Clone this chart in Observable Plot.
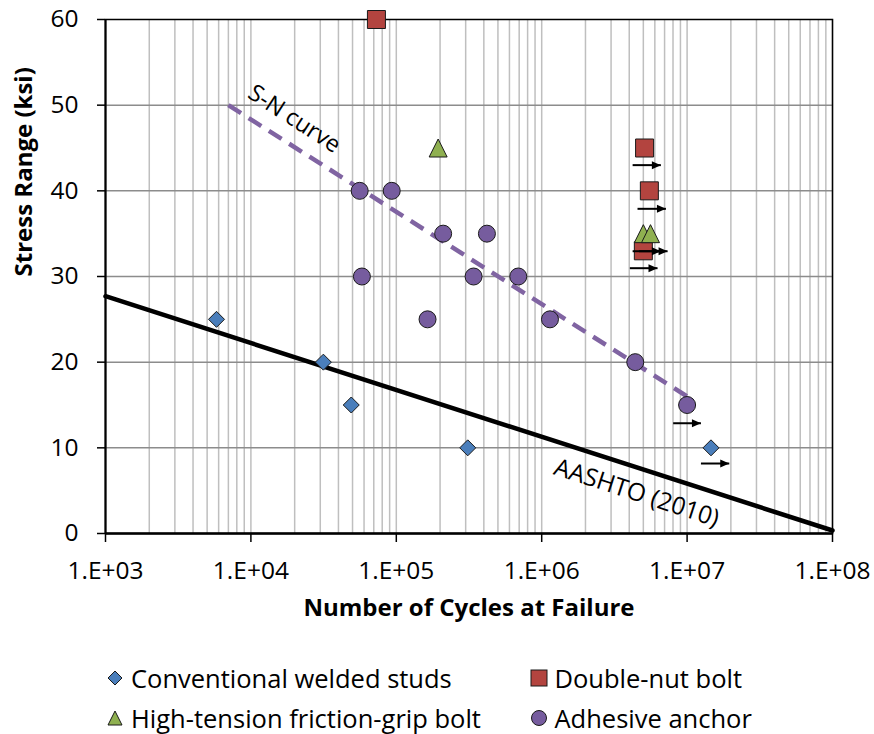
<!DOCTYPE html>
<html><head><meta charset="utf-8">
<script src="https://cdn.jsdelivr.net/npm/d3@7"></script>
<script src="https://cdn.jsdelivr.net/npm/@observablehq/plot@0.6"></script>
<style>
body{margin:0;background:#fff;font-family:"Open Sans",sans-serif;}
#chart{width:874px;}
#legend{position:relative;width:874px;height:94px;font-size:25.5px;color:#000;}
.item{position:absolute;height:40px;display:flex;align-items:center;white-space:nowrap;}
.item svg{margin-right:7px;flex:none;}
</style></head><body><div id="chart"></div><div id="legend"></div>
<script>
// ---- axis ticks ----
const xTicks = [1e3, 1e4, 1e5, 1e6, 1e7, 1e8];
const xTickLabels = ["1.E+03", "1.E+04", "1.E+05", "1.E+06", "1.E+07", "1.E+08"];
const yTicks = [0, 10, 20, 30, 40, 50, 60];
const yGrid = [10, 20, 30, 40, 50];

// ---- series (N cycles, stress range ksi) ----
const seriesNames = ["Conventional welded studs", "Double-nut bolt", "High-tension friction-grip bolt", "Adhesive anchor"];
const studN = [5.8e3, 3.15e4, 4.9e4, 3.1e5, 1.46e7];
const studS = [25, 20, 15, 10, 10];
const nutN = [7.3e4, 5.1e6, 5.5e6, 5.0e6];
const nutS = [60, 45, 40, 33];
const htfgN = [1.94e5, 5.0e6, 5.6e6];
const htfgS = [45, 35, 35];
const adhN = [5.6e4, 9.3e4, 5.8e4, 2.1e5, 4.2e5, 3.4e5, 6.9e5, 1.64e5, 1.14e6, 4.4e6, 1.0e7];
const adhS = [40, 40, 30, 35, 35, 30, 30, 25, 25, 20, 15];

// ---- curves ----
const aashtoN = [1e3, 1e8];
const aashtoS = [27.7, 0.35];
const snN = [7.0e3, 1.0e7];
const snS = [50, 16];

// ---- run-out arrows ----
const arrowN1 = [4.22e6, 4.56e6, 4.22e6, 4.66e6, 4.04e6, 8.02e6, 1.245e7];
const arrowN2 = [6.6e6, 7.15e6, 6.6e6, 7.34e6, 6.26e6, 1.245e7, 1.95e7];
const arrowS = [43.0, 37.9, 32.95, 32.95, 30.97, 12.87, 8.17];

// ---- labels ----
const snLabel = "S-N curve", snLabelN = 1.99e4, snLabelS = 48.4;
const aashtoLabel = "AASHTO (2010)", aashtoLabelN = 4.5e6, aashtoLabelS = 4.73;

const colors = ["#4a7ebb", "#b3443f", "#8fb050", "#765c9e"];
const snColor = "#8064a2";

const half = size => Math.sqrt(size / Math.PI);
const diamondSym = {draw(c, s){const h = half(s); c.moveTo(0,-h); c.lineTo(h,0); c.lineTo(0,h); c.lineTo(-h,0); c.closePath();}};
const squareSym = {draw(c, s){const h = half(s); c.rect(-h,-h,2*h,2*h);}};
const triSym = {draw(c, s){const h = half(s); c.moveTo(0,-h); c.lineTo(h,h); c.lineTo(-h,h); c.closePath();}};
const headSym = {draw(c){c.moveTo(0,0); c.lineTo(-9,-4); c.lineTo(-9,4); c.closePath();}};

const minorTicks = d3.scaleLog().domain([1e3, 1e8]).ticks();

const chart = Plot.plot({
  width: 874, height: 640,
  marginTop: 19, marginRight: 42, marginBottom: 107, marginLeft: 105,
  x: {type: "log", domain: [1e3, 1e8]},
  y: {domain: [0, 60]},
  style: {fontFamily: "Open Sans", fontSize: "24px", color: "#000", background: "#fff", overflow: "visible"},
  marks: [
    Plot.gridX(minorTicks, {stroke: "#bfbfbf", strokeOpacity: 1, strokeWidth: 1.5}),
    Plot.gridY(yGrid, {stroke: "#8c8c8c", strokeOpacity: 1, strokeWidth: 1.5}),
    Plot.frame({stroke: "#000", strokeWidth: 1.5}),
    Plot.ruleY([0], {stroke: "#000", strokeWidth: 2.5}),
    Plot.ruleX([1e3], {stroke: "#000", strokeWidth: 2}),
    Plot.axisY({ticks: yTicks, tickSize: 8, tickPadding: 19, strokeWidth: 1.5, label: null, fontSize: 24.5}),
    Plot.axisX({ticks: xTicks, tickSize: 9, tickPadding: 19, strokeWidth: 1.5, label: null, fontSize: 24.5,
      tickFormat: d => xTickLabels[xTicks.indexOf(d)]}),
    Plot.text(["Stress Range (ksi)"], {frameAnchor: "left", dx: -81, rotate: -90, fontWeight: "bold", fontSize: 24}),
    Plot.text(["Number of Cycles at Failure"], {frameAnchor: "bottom", dy: 82, fontWeight: "bold", fontSize: 24}),
    Plot.line(aashtoS, {x: aashtoN, y: aashtoS, stroke: "#000", strokeWidth: 4.5}),
    Plot.line(snS, {x: snN, y: snS, stroke: snColor, strokeWidth: 4.5, strokeDasharray: "15,9", strokeLinecap: "butt"}),
    Plot.text([snLabel], {x: [snLabelN], y: [snLabelS], rotate: 33, fontSize: 23.5, fill: "#000"}),
    Plot.text([aashtoLabel], {x: [aashtoLabelN], y: [aashtoLabelS], rotate: 18, fontSize: 24.5, fill: "#000"}),
    Plot.dot(studS, {x: studN, y: studS, symbol: diamondSym, r: 8, fill: colors[0], stroke: "#1a1a1a", strokeWidth: 1}),
    Plot.dot(nutS, {x: nutN, y: nutS, symbol: squareSym, r: 9, fill: colors[1], stroke: "#1a1a1a", strokeWidth: 1}),
    Plot.dot(htfgS, {x: htfgN, y: htfgS, symbol: triSym, r: 9, fill: colors[2], stroke: "#1a1a1a", strokeWidth: 1}),
    Plot.dot(adhS, {x: adhN, y: adhS, symbol: "circle", r: 8.5, fill: colors[3], stroke: "#1a1a1a", strokeWidth: 1}),
    Plot.link(arrowS, {x1: arrowN1, x2: arrowN2, y1: arrowS, y2: arrowS, stroke: "#000", strokeWidth: 2}),
    Plot.dot(arrowS, {x: arrowN2, y: arrowS, symbol: headSym, r: 1, fill: "#000", stroke: "none"})
  ]
});
document.getElementById("chart").appendChild(chart);

// ---- legend ----
const legendMarkers = [
  '<polygon points="7,0 14,7 7,14 0,7"/>',
  '<rect x="0" y="0" width="16" height="16"/>',
  '<polygon points="7,0 14,14 0,14"/>',
  '<circle cx="8" cy="8" r="7.5"/>'
];
const legendSize = [[14,14],[16,16],[14,14],[16,16]];
const legendPos = [[106, 18], [529.5, 18], [106, 58], [529.5, 58]];
const legendOrder = [0, 1, 2, 3];
const lg = document.getElementById("legend");
legendOrder.forEach((s, k) => {
  const div = document.createElement("div");
  div.className = "item";
  div.style.left = legendPos[k][0] + "px";
  div.style.top = legendPos[k][1] + "px";
  const [w, h] = legendSize[s];
  div.innerHTML = `<svg width="${w+2}" height="${h+2}" viewBox="-1 -1 ${w+2} ${h+2}" style="margin-left:${(18-w-2)/2}px;margin-right:${7+(18-w-2)/2}px"><g fill="${colors[s]}" stroke="#1a1a1a" stroke-width="1">${legendMarkers[s]}</g></svg><span>${seriesNames[s]}</span>`;
  lg.appendChild(div);
});
</script>
</body></html>
